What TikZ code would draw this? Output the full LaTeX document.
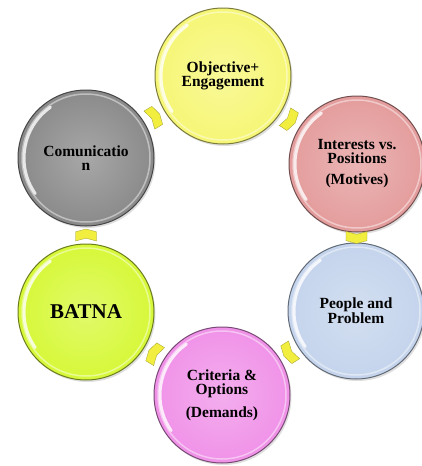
\documentclass[tikz,border=0pt]{standalone}
\usepackage{fontspec}
\setmainfont{Liberation Serif}
\usetikzlibrary{shapes.symbols,calc,shadows}

\definecolor{objcol}{RGB}{246,246,118}
\definecolor{intcol}{RGB}{228,156,156}
\definecolor{pplcol}{RGB}{196,212,236}
\definecolor{critcol}{RGB}{240,146,232}
\definecolor{batcol}{RGB}{214,248,56}
\definecolor{comcol}{RGB}{138,138,138}
\definecolor{arrcol}{RGB}{242,238,64}

\begin{document}
\begin{tikzpicture}[x=1pt,y=-1pt,
    bubble/.style={circle,minimum size=136pt,inner sep=0pt,align=center,
        font=\bfseries\fontsize{15.5}{14}\selectfont,
        inner color=#1!75!white,outer color=#1,draw=#1!50!black,line width=1pt,
        drop shadow={opacity=.25,shadow xshift=1.5pt,shadow yshift=-2pt},
        path picture={
            \draw[white,opacity=.45,line width=1.5pt] (path picture bounding box.center) circle (64pt);
            \draw[white,opacity=.8,line width=3pt,line cap=round]
                ([shift={(125:62pt)}]path picture bounding box.center) arc[start angle=125,end angle=215,radius=62pt];
        }},
    chev/.style={signal,signal to=east,signal from=west,signal pointer angle=150,
        minimum width=12pt,minimum height=21pt,inner sep=0pt,
        fill=arrcol,draw=arrcol!65!black,line width=.3pt}]

    \useasboundingbox (0,0) rectangle (422,466);

    \node[bubble=objcol] (obj) at (223,76) {Objective+\\Engagement};
    \node[bubble=intcol] (int) at (357,164) {Interests vs.\\Positions\\[7pt](Motives)};
    \node[bubble=pplcol] (ppl) at (356,311) {People and\\Problem};
    \node[bubble=critcol] (crit) at (222,395) {Criteria \&\\Options\\[8pt](Demands)};
    \node[bubble=batcol,font=\bfseries\fontsize{21}{21}\selectfont] (bat) at (86,312) {BATNA};
    \node[bubble=comcol] (com) at (86,158) {Comunicatio\\n};

    % small chevrons between the circles, clockwise
    \foreach \a/\b [count=\i] in {obj/int,int/ppl,ppl/crit,crit/bat,bat/com,com/obj}{
        \path let \p1=($(\b)-(\a)$),\n1={atan2(\y1,\x1)} in
            node[chev,rotate=\n1] (arr\i) at ($(\a)!0.5!(\b)$) {};
    }
\end{tikzpicture}
\end{document}
